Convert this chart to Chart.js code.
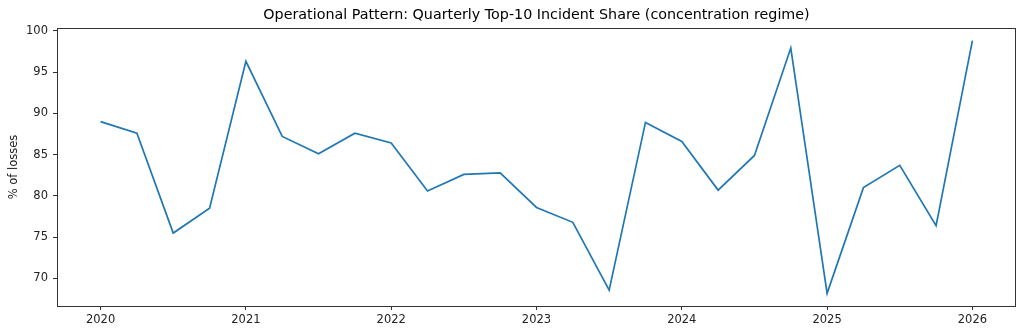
<!DOCTYPE html>
<html>
<head>
<meta charset="utf-8">
<script src="https://cdn.jsdelivr.net/npm/chart.js@4"></script>
<style>
    html, body { margin: 0; padding: 0; background: #fff; }
    #wrap { width: 1024px; height: 336px; }
</style>
</head>
<body>
<div id="wrap"><canvas id="MyChart" width="1024" height="336"></canvas></div>
<script>

// quarter start positions (decimal years) and top-10 share per quarter
const quarters = [
    2020.0, 2020.25, 2020.5, 2020.75,
    2021.0, 2021.25, 2021.5, 2021.75,
    2022.0, 2022.25, 2022.5, 2022.75,
    2023.0, 2023.25, 2023.5, 2023.75,
    2024.0, 2024.25, 2024.5, 2024.75,
    2025.0, 2025.25, 2025.5, 2025.75,
    2026.0
];
const topShare = [
    89.0, 87.6, 75.5, 78.5,
    96.3, 87.2, 85.1, 87.6,
    86.4, 80.6, 82.6, 82.8,
    78.6, 76.8, 68.6, 88.9,
    86.6, 80.7, 84.9, 97.9,
    68.2, 81.0, 83.7, 76.4,
    98.8
];
const yearTicks = [2020, 2021, 2022, 2023, 2024, 2025, 2026];
const shareTicks = [70, 75, 80, 85, 90, 95, 100];

const FONT = "'DejaVu Sans', sans-serif";
const titleText = 'Operational Pattern: Quarterly Top-10 Incident Share (concentration regime)';

// axes frame + title centred over the plot
const framePlugin = {
    id: 'frame',
    afterDraw(chart) {
        const { ctx, chartArea: a } = chart;
        ctx.save();
        ctx.strokeStyle = '#333';
        ctx.lineWidth = 1;
        ctx.strokeRect(Math.round(a.left) + 0.5, Math.round(a.top) + 0.5,
            Math.round(a.right - a.left) - 1, Math.round(a.bottom - a.top));
        ctx.fillStyle = '#000';
        ctx.font = '14.3px ' + FONT;
        ctx.textAlign = 'center';
        ctx.textBaseline = 'middle';
        ctx.fillText(titleText, (a.left + a.right) / 2, 15);
        ctx.restore();
    }
};

const ctx = document.getElementById('MyChart').getContext('2d');
let myChart = new Chart(ctx, {
    type: 'line',
    data: {
        datasets: [{
            label: 'Top-10 share',
            data: quarters.map((q, i) => ({ x: q, y: topShare[i] })),
            borderColor: '#1f77b4',
            borderWidth: 1.7,
            pointRadius: 0,
            tension: 0,
            fill: false
        }]
    },
    options: {
        responsive: false,
        animation: false,
        layout: { padding: { top: 28, right: 8, left: 0, bottom: 0 } },
        plugins: {
            legend: { display: false },
            tooltip: { enabled: false },
            title: { display: false }
        },
        scales: {
            x: {
                type: 'linear',
                min: 2019.7,
                max: 2026.3,
                afterBuildTicks: (s) => { s.ticks = yearTicks.map(v => ({ value: v })); },
                afterFit: (s) => { s.height = 30; },
                ticks: {
                    color: '#222',
                    font: { family: FONT, size: 11.5 },
                    padding: 3,
                    maxRotation: 0,
                    callback: (v) => String(v)
                },
                grid: { drawOnChartArea: false, drawTicks: true, tickLength: 4, color: '#333' },
                border: { display: false }
            },
            y: {
                min: 66.67,
                max: 100.33,
                afterBuildTicks: (s) => { s.ticks = shareTicks.map(v => ({ value: v })); },
                afterFit: (s) => { s.width = 57; },
                ticks: {
                    color: '#222',
                    font: { family: FONT, size: 11.5 },
                    padding: 5
                },
                grid: { drawOnChartArea: false, drawTicks: true, tickLength: 4, color: '#333' },
                border: { display: false },
                title: {
                    display: true,
                    text: '% of losses',
                    color: '#222',
                    font: { family: FONT, size: 11.5 },
                    padding: { top: 7, bottom: 0 }
                }
            }
        }
    },
    plugins: [framePlugin]
});
</script>
</body>
</html>
